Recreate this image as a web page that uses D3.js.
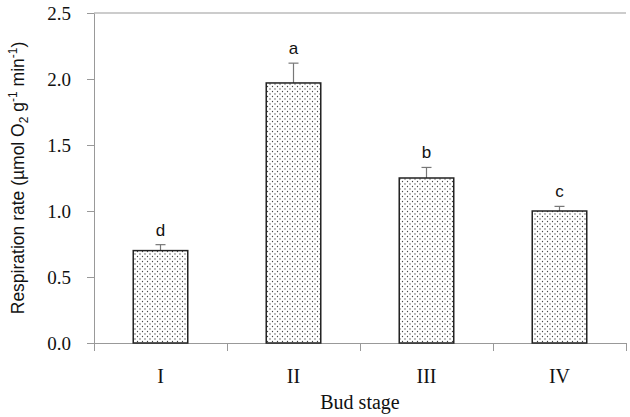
<!DOCTYPE html>
<html>
<head>
<meta charset="utf-8">
<script src="https://cdn.jsdelivr.net/npm/d3@7"></script>
<style>
  body { margin: 0; background: #fff; }
  svg { display: block; }
</style>
</head>
<body>
<svg width="630" height="417"></svg>
<script>
// Chart data
var stages = ['I', 'II', 'III', 'IV'];
var rates = [0.70, 1.97, 1.25, 1.00];
var errors = [0.045, 0.15, 0.08, 0.035];
var letters = ['d', 'a', 'b', 'c'];
var yTicks = [0, 0.5, 1.0, 1.5, 2.0, 2.5];

var svg = d3.select('svg');
var padding = {t: 13, r: 4, b: 74, l: 94};
var chartWidth = +svg.attr('width') - padding.l - padding.r;
var chartHeight = +svg.attr('height') - padding.t - padding.b;

// Dotted fill pattern for the bars
var pattern = svg.append('defs').append('pattern')
    .attr('id', 'dots')
    .attr('width', 5)
    .attr('height', 5)
    .attr('patternUnits', 'userSpaceOnUse');
pattern.append('rect').attr('width', 5).attr('height', 5).attr('fill', '#fff');
pattern.append('circle').attr('cx', 1).attr('cy', 1).attr('r', 0.65).attr('fill', '#444');
pattern.append('circle').attr('cx', 3.5).attr('cy', 3.5).attr('r', 0.65).attr('fill', '#444');

var chartG = svg.append('g')
    .attr('transform', 'translate(' + [padding.l, padding.t] + ')');

var x = d3.scaleBand()
    .domain(stages)
    .range([0, chartWidth])
    .paddingInner(0.59)
    .paddingOuter(0.295);

var xEdges = d3.scaleLinear()
    .domain([0, stages.length])
    .range([0, chartWidth]);

var y = d3.scaleLinear()
    .domain([0, 2.5])
    .range([chartHeight, 0]);

// Y axis
var yAxis = chartG.append('g')
    .attr('class', 'y-axis')
    .call(d3.axisLeft(y).tickValues(yTicks).tickFormat(d3.format('.1f')).tickSize(7).tickSizeOuter(0));
yAxis.selectAll('text')
    .attr('x', -23)
    .style('font-family', '"Liberation Serif", "Times New Roman", serif')
    .style('font-size', '19px')
    .attr('fill', '#111');

// X axis: ticks at the band edges, labels at band centres
chartG.append('g')
    .attr('class', 'x-axis')
    .attr('transform', 'translate(0,' + chartHeight + ')')
    .call(d3.axisBottom(xEdges).tickValues(d3.range(stages.length + 1)).tickFormat('').tickSize(8).tickSizeOuter(0));

chartG.selectAll('.domain, .tick line')
    .attr('stroke', '#999')
    .attr('stroke-width', 1);

// top line
chartG.append('line')
    .attr('x1', 0).attr('x2', chartWidth)
    .attr('y1', y(2.5)).attr('y2', y(2.5))
    .attr('stroke', '#999');

chartG.selectAll('.x-label')
    .data(stages)
    .enter()
    .append('text')
    .attr('class', 'x-label')
    .attr('x', d => x(d) + x.bandwidth() / 2)
    .attr('y', chartHeight + 40)
    .attr('text-anchor', 'middle')
    .style('font-family', '"Liberation Serif", "Times New Roman", serif')
    .style('font-size', '20px')
    .attr('fill', '#111')
    .text(d => d);

// Error bars
var errG = chartG.selectAll('.err')
    .data(stages)
    .enter()
    .append('g')
    .attr('class', 'err');
errG.append('line')
    .attr('x1', d => x(d) + x.bandwidth() / 2)
    .attr('x2', d => x(d) + x.bandwidth() / 2)
    .attr('y1', (d, i) => y(rates[i]))
    .attr('y2', (d, i) => y(rates[i] + errors[i]))
    .attr('stroke', '#777')
    .attr('stroke-width', 1.2);
errG.append('line')
    .attr('x1', d => x(d) + x.bandwidth() / 2 - 5)
    .attr('x2', d => x(d) + x.bandwidth() / 2 + 5)
    .attr('y1', (d, i) => y(rates[i] + errors[i]))
    .attr('y2', (d, i) => y(rates[i] + errors[i]))
    .attr('stroke', '#777')
    .attr('stroke-width', 1.2);

// Bars
chartG.selectAll('.bar')
    .data(stages)
    .enter()
    .append('rect')
    .attr('class', 'bar')
    .attr('x', d => x(d))
    .attr('y', (d, i) => y(rates[i]))
    .attr('width', x.bandwidth())
    .attr('height', (d, i) => chartHeight - y(rates[i]))
    .attr('fill', 'url(#dots)')
    .attr('stroke', '#222')
    .attr('stroke-width', 1.5);

// Significance letters
chartG.selectAll('.letter')
    .data(stages)
    .enter()
    .append('text')
    .attr('class', 'letter')
    .attr('x', d => x(d) + x.bandwidth() / 2)
    .attr('y', (d, i) => y(rates[i] + errors[i]) - 9)
    .attr('text-anchor', 'middle')
    .style('font-family', '"Liberation Sans", Arial, sans-serif')
    .style('font-size', '17px')
    .attr('fill', '#111')
    .text(d => letters[stages.indexOf(d)]);

// Axis titles
svg.append('text')
    .attr('x', padding.l + chartWidth / 2)
    .attr('y', 409)
    .attr('text-anchor', 'middle')
    .style('font-family', '"Liberation Serif", "Times New Roman", serif')
    .style('font-size', '20px')
    .attr('fill', '#111')
    .text('Bud stage');

var yTitle = svg.append('text')
    .attr('transform', 'translate(24,' + (padding.t + chartHeight / 2) + ') rotate(-90)')
    .attr('text-anchor', 'middle')
    .style('font-family', '"Liberation Sans", Arial, sans-serif')
    .style('font-size', '17.5px')
    .attr('fill', '#111');
yTitle.append('tspan').text('Respiration rate (µmol O');
yTitle.append('tspan').attr('dy', 4).style('font-size', '12px').text('2');
yTitle.append('tspan').attr('dy', -4).text(' g');
yTitle.append('tspan').attr('dy', -7).style('font-size', '12px').text('-1');
yTitle.append('tspan').attr('dy', 7).text(' min');
yTitle.append('tspan').attr('dy', -7).style('font-size', '12px').text('-1');
yTitle.append('tspan').attr('dy', 7).text(')');
</script>
</body>
</html>
